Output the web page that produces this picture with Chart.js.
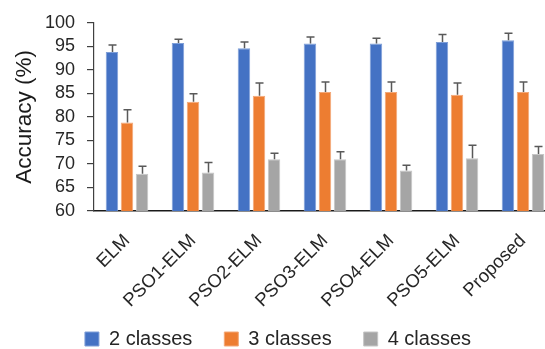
<!DOCTYPE html>
<html>
<head>
<meta charset="utf-8">
<script src="https://cdn.jsdelivr.net/npm/chart.js@4.4.1/dist/chart.umd.min.js"></script>
<style>
  html, body { margin: 0; padding: 0; background: #fff; overflow: hidden; }
  #wrap { width: 545px; height: 349px; overflow: hidden; position: relative; }
  canvas { display: block; }
</style>
</head>
<body>
<div id="wrap"><canvas id="chart" width="556" height="349"></canvas></div>
<script>
// Classifier accuracy by method and number of classes (mean with + error)
const methods = ['ELM', 'PSO1-ELM', 'PSO2-ELM', 'PSO3-ELM', 'PSO4-ELM', 'PSO5-ELM', 'Proposed'];
const seriesNames = ['2 classes', '3 classes', '4 classes'];

const acc2 = [93.8, 95.7, 94.6, 95.6, 95.6, 95.9, 96.3];
const acc3 = [78.8, 83.2, 84.5, 85.3, 85.3, 84.7, 85.3];
const acc4 = [67.9, 68.2, 71.0, 71.0, 68.6, 71.2, 72.1];

const err2 = [1.5, 0.8, 1.3, 1.4, 1.1, 1.6, 1.5];
const err3 = [2.7, 1.7, 2.7, 2.1, 2.1, 2.5, 2.1];
const err4 = [1.6, 2.1, 1.3, 1.6, 1.1, 2.8, 1.6];

const yTicks = [60, 65, 70, 75, 80, 85, 90, 95, 100];

const FONT = "'Liberation Sans', Arial, sans-serif";

// Upward error bars on top of every bar
const errorBars = {
  id: 'errorBars',
  afterDatasetsDraw(chart) {
    const ctx = chart.ctx;
    const y = chart.scales.y;
    ctx.save();
    ctx.strokeStyle = '#595959';
    ctx.lineWidth = 1.5;
    chart.data.datasets.forEach((ds, di) => {
      const meta = chart.getDatasetMeta(di);
      meta.data.forEach((bar, i) => {
        const top = y.getPixelForValue(ds.data[i] + ds.errors[i]);
        const cx = Math.round(bar.x) + 0.5;
        ctx.beginPath();
        ctx.moveTo(cx, bar.y);
        ctx.lineTo(cx, top);
        ctx.moveTo(cx - 4, top);
        ctx.lineTo(cx + 4, top);
        ctx.stroke();
      });
    });
    ctx.restore();
  }
};

// Pull the legend row up a little so it sits closer to the rotated labels
const legendLift = {
  id: 'legendLift',
  afterLayout(chart) {
    const lg = chart.legend;
    if (lg) { lg.top -= 14; lg.bottom -= 14; }
  }
};

new Chart(document.getElementById('chart'), {
  type: 'bar',
  data: {
    labels: methods,
    datasets: [
      { label: seriesNames[0], data: acc2, errors: err2, backgroundColor: '#4472C4', borderColor: '#7f9fd8', borderWidth: 1 },
      { label: seriesNames[1], data: acc3, errors: err3, backgroundColor: '#ED7D31', borderColor: '#f3a878', borderWidth: 1 },
      { label: seriesNames[2], data: acc4, errors: err4, backgroundColor: '#A5A5A5', borderColor: '#c6c6c6', borderWidth: 1 }
    ]
  },
  options: {
    responsive: false,
    animation: false,
    layout: { padding: { top: 22, right: 0, bottom: -24, left: 0 } },
    datasets: { bar: { categoryPercentage: 0.684, barPercentage: 0.83 } },
    plugins: {
      tooltip: { enabled: false },
      legend: {
        position: 'bottom',
        labels: {
          boxWidth: 14,
          boxHeight: 14,
          padding: 32,
          color: '#262626',
          font: { family: FONT, size: 20 }
        }
      }
    },
    scales: {
      x: {
        grid: { display: false },
        border: { display: true, color: '#1a1a1a', width: 1.5 },
        ticks: {
          minRotation: 45,
          maxRotation: 45,
          padding: 11,
          color: '#262626',
          font: { family: FONT, size: 18.5 }
        },
        afterFit(scale) { scale.height = 100; }
      },
      y: {
        min: 60,
        max: 100,
        afterBuildTicks(scale) { scale.ticks = yTicks.map(v => ({ value: v })); },
        grid: { drawOnChartArea: false, drawTicks: true, tickLength: 7, color: '#404040', lineWidth: 1.2 },
        border: { display: true, color: '#404040', width: 1.2 },
        ticks: {
          autoSkip: false,
          padding: 12,
          color: '#262626',
          font: { family: FONT, size: 18 }
        },
        title: {
          display: true,
          text: 'Accuracy (%)',
          color: '#1a1a1a',
          padding: { top: 11, bottom: 0 },
          font: { family: FONT, size: 22.5 }
        },
        afterFit(scale) { scale.width = 94; }
      }
    }
  },
  plugins: [errorBars, legendLift]
});
</script>
</body>
</html>
